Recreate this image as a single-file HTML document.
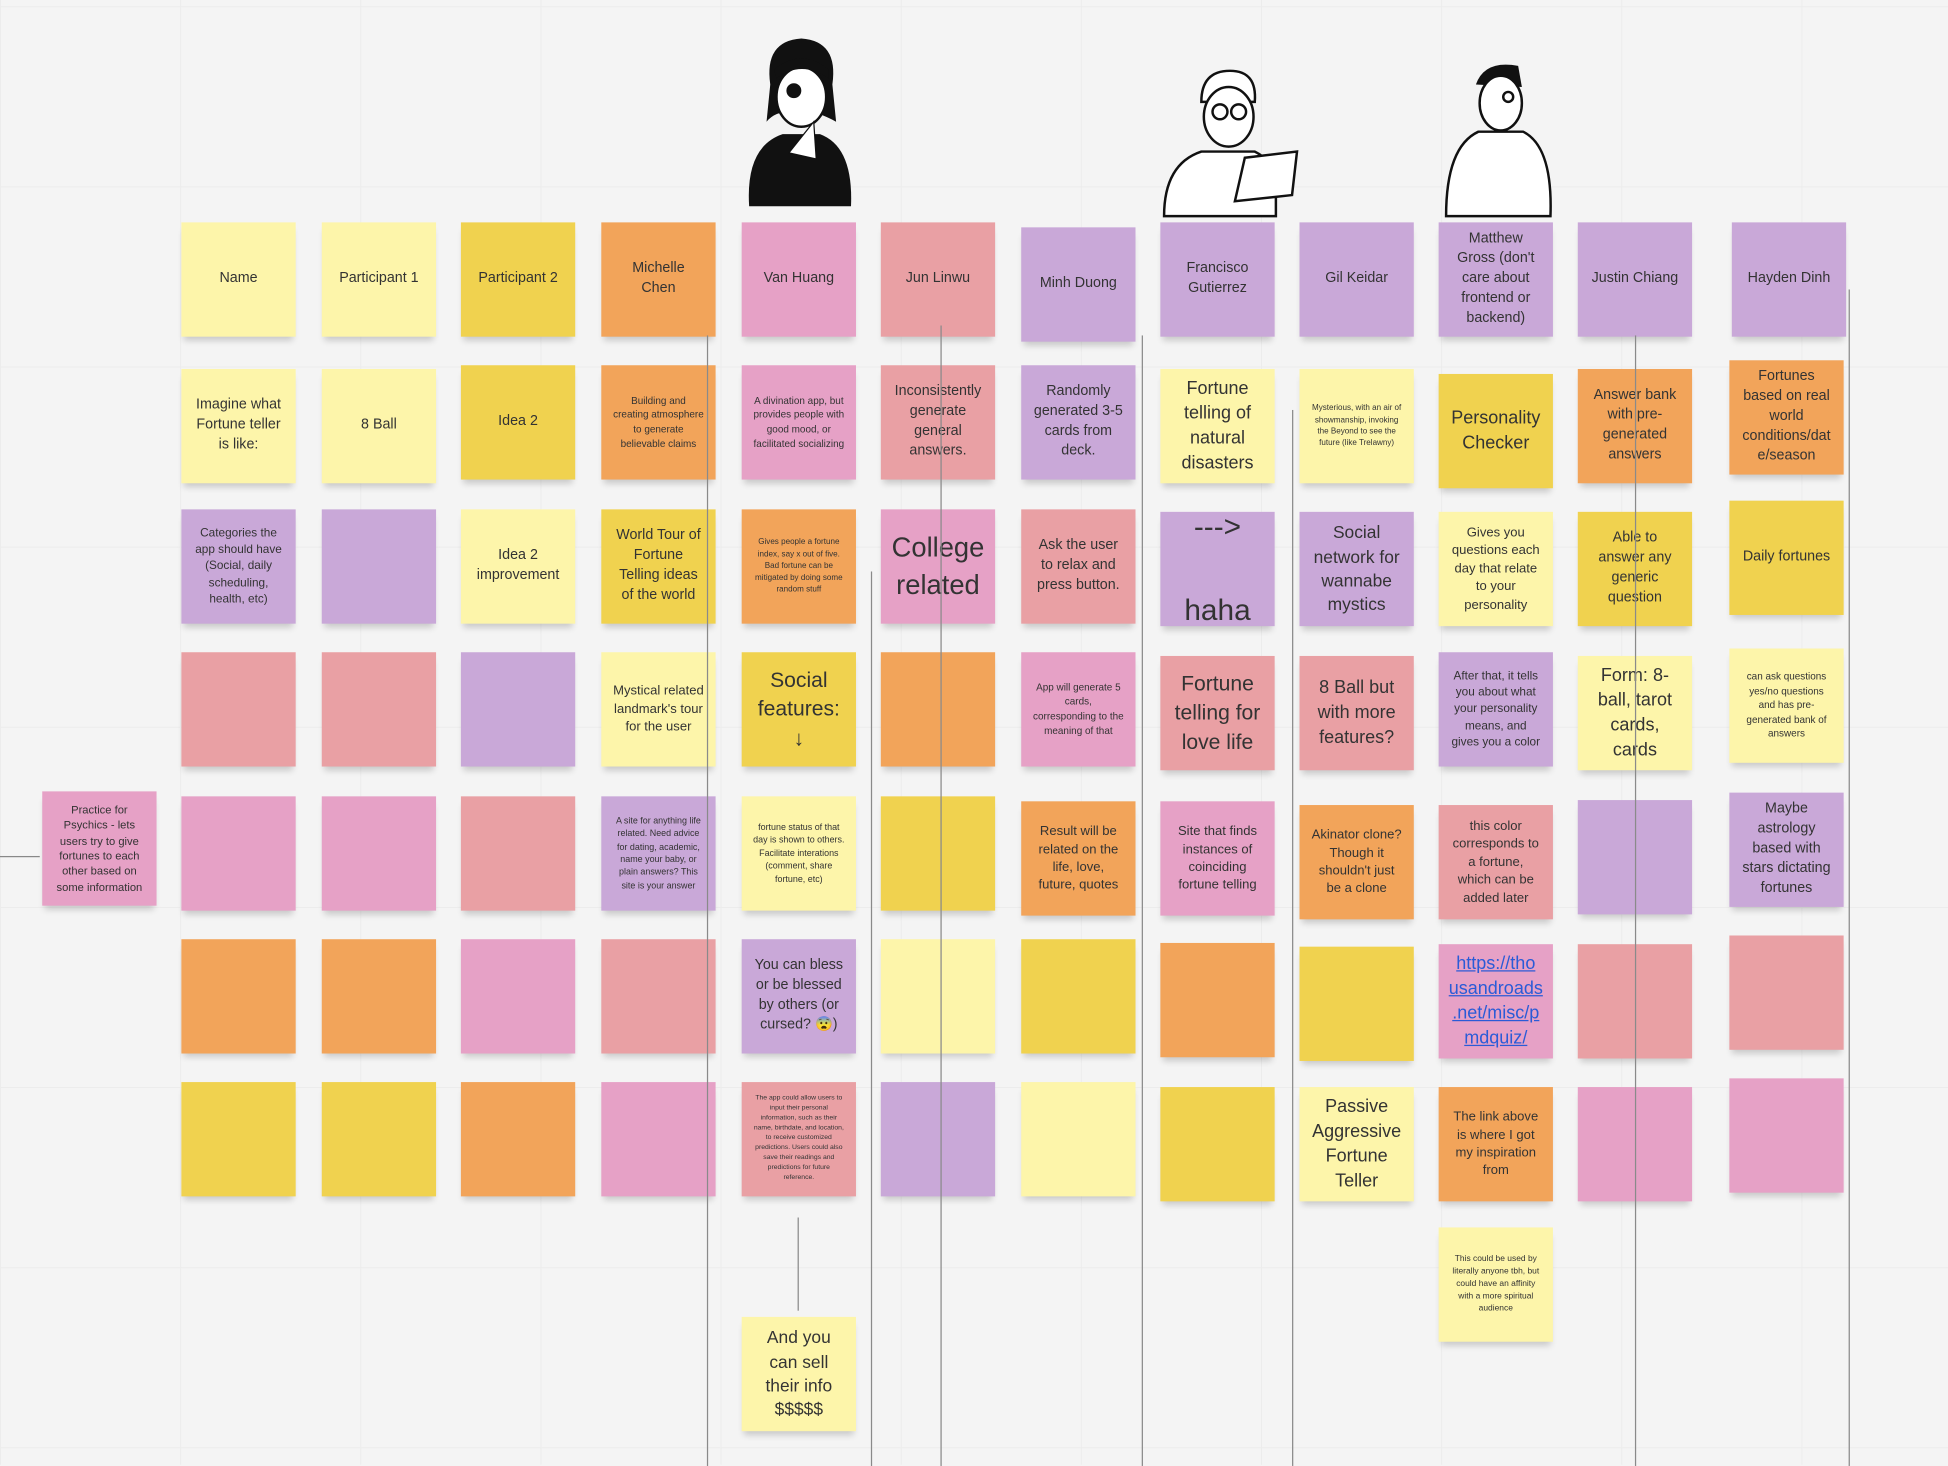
<!DOCTYPE html>
<html><head><meta charset="utf-8"><style>
html,body{margin:0;padding:0;}
body{width:1948px;height:1464px;overflow:hidden;background:#f4f4f4;font-family:"Liberation Sans",sans-serif;}
#w{position:absolute;left:0;top:0;width:1568px;height:1179px;transform:scale(1.24235);transform-origin:0 0;
background-color:#f4f4f4;
background-image:linear-gradient(#ececec 1px,transparent 1px),linear-gradient(90deg,#ececec 1px,transparent 1px);
background-size:145px 145px;background-position:0 5px;}
.n{position:absolute;width:92px;height:92px;display:flex;align-items:center;justify-content:center;text-align:center;color:#333;font-size:11.5px;line-height:1.38;box-shadow:0 5px 5px -2px rgba(0,0,0,.18);box-sizing:border-box;padding:4px 9px;}
.ly{background:#fdf5aa}.y{background:#f0d24f}.o{background:#f2a45a}.pk{background:#e6a1c6}.s{background:#e9a0a4}.pu{background:#c9a8d8}
.sm{font-size:8px;line-height:1.45}.xs{font-size:6.5px;line-height:1.45}.lg{font-size:14.5px}.xl{font-size:17px}.xxl{font-size:22px}
.v{position:absolute;width:1px;background:#8a8a8a;z-index:5}
a{color:#2a5bd7}
</style></head><body><div id="w">
<div class="v" style="left:569px;top:270px;height:910px"></div>
<div class="v" style="left:701px;top:460px;height:720px"></div>
<div class="v" style="left:757px;top:262px;height:918px"></div>
<div class="v" style="left:919px;top:270px;height:910px"></div>
<div class="v" style="left:1040px;top:330px;height:850px"></div>
<div class="v" style="left:1316px;top:270px;height:910px"></div>
<div class="v" style="left:1488px;top:233px;height:947px"></div>
<div style="position:absolute;left:0;top:689px;width:32px;height:1px;background:#888"></div>
<div class="v" style="left:642px;top:980px;height:75px"></div>

<svg style="position:absolute;left:595px;top:28px" width="95" height="140" viewBox="0 0 95 140">
<path d="M25 40 Q20 5 50 3 Q80 5 75 40 L78 70 Q60 60 48 62 Q30 60 22 70 Z" fill="#111"/>
<ellipse cx="50" cy="50" rx="20" ry="24" fill="#fff" stroke="#111" stroke-width="2"/>
<path d="M30 35 Q50 20 72 35 L72 28 Q50 10 28 28Z" fill="#111"/>
<circle cx="44" cy="45" r="6" fill="#111"/>
<path d="M8 138 Q5 90 35 80 L65 80 Q92 90 90 138Z" fill="#111"/>
<path d="M40 95 L60 70 L62 100Z" fill="#fff" stroke="#111"/>
</svg>
<svg style="position:absolute;left:932px;top:52px" width="115" height="125" viewBox="0 0 115 125">
<path d="M35 30 Q35 5 58 5 Q80 5 78 30Z" fill="#fff" stroke="#111" stroke-width="2"/>
<ellipse cx="57" cy="42" rx="20" ry="24" fill="#fff" stroke="#111" stroke-width="2"/>
<circle cx="50" cy="38" r="6" fill="none" stroke="#111" stroke-width="2"/><circle cx="65" cy="38" r="6" fill="none" stroke="#111" stroke-width="2"/>
<path d="M5 122 Q5 80 35 70 L78 70 Q95 78 95 100 L95 122Z" fill="#fff" stroke="#111" stroke-width="2"/>
<path d="M70 75 L112 70 L108 105 L62 110Z" fill="#fff" stroke="#111" stroke-width="2"/>
</svg>
<svg style="position:absolute;left:1160px;top:48px" width="92" height="128" viewBox="0 0 92 128">
<path d="M28 20 Q35 0 62 5 L65 22Z" fill="#111"/>
<ellipse cx="48" cy="35" rx="17" ry="22" fill="#fff" stroke="#111" stroke-width="2"/>
<circle cx="54" cy="30" r="4" fill="none" stroke="#111" stroke-width="2"/>
<path d="M4 126 Q4 70 30 58 L66 58 Q90 70 88 126Z" fill="#fff" stroke="#111" stroke-width="2"/>
</svg>

<!-- row 1 -->
<div class="n ly" style="left:146px;top:179px">Name</div>
<div class="n ly" style="left:259px;top:179px">Participant 1</div>
<div class="n y" style="left:371px;top:179px">Participant 2</div>
<div class="n o" style="left:484px;top:179px">Michelle<br>Chen</div>
<div class="n pk" style="left:597px;top:179px">Van Huang</div>
<div class="n s" style="left:709px;top:179px">Jun Linwu</div>
<div class="n pu" style="left:822px;top:183px">Minh Duong</div>
<div class="n pu" style="left:934px;top:179px">Francisco Gutierrez</div>
<div class="n pu" style="left:1046px;top:179px">Gil Keidar</div>
<div class="n pu" style="left:1158px;top:179px">Matthew Gross (don't care about frontend or backend)</div>
<div class="n pu" style="left:1270px;top:179px">Justin Chiang</div>
<div class="n pu" style="left:1394px;top:179px">Hayden Dinh</div>
<!-- row 2 -->
<div class="n ly" style="left:146px;top:297px">Imagine what Fortune teller is like:</div>
<div class="n ly" style="left:259px;top:297px">8 Ball</div>
<div class="n y" style="left:371px;top:294px">Idea 2</div>
<div class="n o sm" style="left:484px;top:294px">Building and creating atmosphere to generate believable claims</div>
<div class="n pk sm" style="left:597px;top:294px">A divination app, but provides people with good mood, or facilitated socializing</div>
<div class="n s" style="left:709px;top:294px">Inconsistently generate general answers.</div>
<div class="n pu" style="left:822px;top:294px">Randomly generated 3-5 cards from deck.</div>
<div class="n ly lg" style="left:934px;top:297px">Fortune telling of natural disasters</div>
<div class="n ly xs" style="left:1046px;top:297px">Mysterious, with an air of showmanship, invoking the Beyond to see the future (like Trelawny)</div>
<div class="n y lg" style="left:1158px;top:301px">Personality Checker</div>
<div class="n o" style="left:1270px;top:297px">Answer bank with pre-generated answers</div>
<div class="n o" style="left:1392px;top:290px">Fortunes based on real world conditions/dat e/season</div>
<!-- row 3 -->
<div class="n pu" style="left:146px;top:410px;font-size:9.5px">Categories the app should have (Social, daily scheduling, health, etc)</div>
<div class="n pu" style="left:259px;top:410px"></div>
<div class="n ly" style="left:371px;top:410px">Idea 2 improvement</div>
<div class="n y" style="left:484px;top:410px">World Tour of Fortune Telling ideas of the world</div>
<div class="n o xs" style="left:597px;top:410px">Gives people a fortune index, say x out of five. Bad fortune can be mitigated by doing some random stuff</div>
<div class="n pk xxl" style="left:709px;top:410px">College related</div>
<div class="n s" style="left:822px;top:410px">Ask the user to relax and press button.</div>
<div class="n pu xxl" style="left:934px;top:412px;font-size:24px">---&gt;<br><br>haha</div>
<div class="n pu" style="left:1046px;top:412px;font-size:14px">Social network for wannabe mystics</div>
<div class="n ly" style="left:1158px;top:412px;font-size:10.5px">Gives you questions each day that relate to your personality</div>
<div class="n y" style="left:1270px;top:412px">Able to answer any generic question</div>
<div class="n y" style="left:1392px;top:403px">Daily fortunes</div>
<!-- row 4 -->
<div class="n s" style="left:146px;top:525px"></div>
<div class="n s" style="left:259px;top:525px"></div>
<div class="n pu" style="left:371px;top:525px"></div>
<div class="n ly" style="left:484px;top:525px;font-size:10.5px">Mystical related landmark's tour for the user</div>
<div class="n y xl" style="left:597px;top:525px">Social features:<br>↓</div>
<div class="n o" style="left:709px;top:525px"></div>
<div class="n pk sm" style="left:822px;top:525px">App will generate 5 cards, corresponding to the meaning of that</div>
<div class="n s xl" style="left:934px;top:528px">Fortune telling for love life</div>
<div class="n s lg" style="left:1046px;top:528px">8 Ball but with more features?</div>
<div class="n pu" style="left:1158px;top:525px;font-size:9.5px">After that, it tells you about what your personality means, and gives you a color</div>
<div class="n ly lg" style="left:1270px;top:528px">Form: 8-ball, tarot cards, cards</div>
<div class="n ly sm" style="left:1392px;top:522px">can ask questions yes/no questions and has pre-generated bank of answers</div>
<!-- row 5 -->
<div class="n pk" style="left:34px;top:637px;font-size:9px">Practice for Psychics - lets users try to give fortunes to each other based on some information</div>
<div class="n pk" style="left:146px;top:641px"></div>
<div class="n pk" style="left:259px;top:641px"></div>
<div class="n s" style="left:371px;top:641px"></div>
<div class="n pu xs" style="left:484px;top:641px;font-size:7.2px">A site for anything life related. Need advice for dating, academic, name your baby, or plain answers? This site is your answer</div>
<div class="n ly xs" style="left:597px;top:641px;font-size:7.2px">fortune status of that day is shown to others. Facilitate interations (comment, share fortune, etc)</div>
<div class="n y" style="left:709px;top:641px"></div>
<div class="n o" style="left:822px;top:645px;font-size:10.5px">Result will be related on the life, love, future, quotes</div>
<div class="n pk" style="left:934px;top:645px;font-size:10.5px">Site that finds instances of coinciding fortune telling</div>
<div class="n o" style="left:1046px;top:648px;font-size:10.5px">Akinator clone? Though it shouldn't just be a clone</div>
<div class="n s" style="left:1158px;top:648px;font-size:10.5px">this color corresponds to a fortune, which can be added later</div>
<div class="n pu" style="left:1270px;top:644px"></div>
<div class="n pu" style="left:1392px;top:638px">Maybe astrology based with stars dictating fortunes</div>
<!-- row 6 -->
<div class="n o" style="left:146px;top:756px"></div>
<div class="n o" style="left:259px;top:756px"></div>
<div class="n pk" style="left:371px;top:756px"></div>
<div class="n s" style="left:484px;top:756px"></div>
<div class="n pu" style="left:597px;top:756px">You can bless or be blessed by others (or cursed? 😨)</div>
<div class="n ly" style="left:709px;top:756px"></div>
<div class="n y" style="left:822px;top:756px"></div>
<div class="n o" style="left:934px;top:759px"></div>
<div class="n y" style="left:1046px;top:762px"></div>
<div class="n pk lg" style="left:1158px;top:760px;padding:4px 6px"><a href="#">https://tho usandroads .net/misc/p mdquiz/</a></div>
<div class="n s" style="left:1270px;top:760px"></div>
<div class="n s" style="left:1392px;top:753px"></div>
<!-- row 7 -->
<div class="n y" style="left:146px;top:871px"></div>
<div class="n y" style="left:259px;top:871px"></div>
<div class="n o" style="left:371px;top:871px"></div>
<div class="n pk" style="left:484px;top:871px"></div>
<div class="n s xs" style="left:597px;top:871px;font-size:5.5px">The app could allow users to input their personal information, such as their name, birthdate, and location, to receive customized predictions. Users could also save their readings and predictions for future reference.</div>
<div class="n pu" style="left:709px;top:871px"></div>
<div class="n ly" style="left:822px;top:871px"></div>
<div class="n y" style="left:934px;top:875px"></div>
<div class="n ly lg" style="left:1046px;top:875px">Passive Aggressive Fortune Teller</div>
<div class="n o" style="left:1158px;top:875px;font-size:10.5px">The link above is where I got my inspiration from</div>
<div class="n pk" style="left:1270px;top:875px"></div>
<div class="n pk" style="left:1392px;top:868px"></div>
<!-- extra -->
<div class="n ly" style="left:1158px;top:988px;font-size:6.8px;line-height:1.5">This could be used by literally anyone tbh, but could have an affinity with a more spiritual audience</div>
<div class="n ly" style="left:597px;top:1060px;font-size:14px">And you can sell their info $$$$$</div>
</div></body></html>
